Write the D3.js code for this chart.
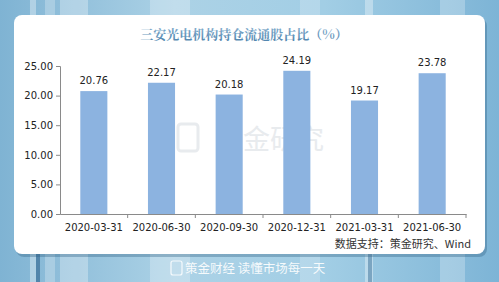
<!DOCTYPE html>
<html>
<head>
<meta charset="utf-8">
<script src="https://cdn.jsdelivr.net/npm/d3@7"></script>
<style>
  body { margin: 0; overflow: hidden; }
  svg { display: block; }
</style>
</head>
<body>
<svg id="chart"></svg>
<script>
const width = 499;
const height = 282;
const categories = ["2020-03-31", "2020-06-30", "2020-09-30", "2020-12-31", "2021-03-31", "2021-06-30"];
const values = [20.76, 22.17, 20.18, 24.19, 19.17, 23.78];
const yTicks = [0, 5, 10, 15, 20, 25];
const title = "三安光电机构持仓流通股占比（%）";
const source = "数据支持：策金研究、Wind";
const footer = "策金财经 读懂市场每一天";

const svg = d3.select("#chart").attr("width", width).attr("height", height);
const defs = svg.append("defs");

let bg = defs.append("linearGradient").attr("id", "bg").attr("x1", 0).attr("x2", 1).attr("y1", 0).attr("y2", 0);
bg.append("stop").attr("offset", "0%").attr("stop-color", "#7fb3d3");
bg.append("stop").attr("offset", "35%").attr("stop-color", "#acd2e6");
bg.append("stop").attr("offset", "65%").attr("stop-color", "#a2cee5");
bg.append("stop").attr("offset", "100%").attr("stop-color", "#7db4d6");

svg.append("rect").attr("width", width).attr("height", height).attr("fill", "url(#bg)");

// light vertical stripes in the background
const stripes = [[30, 6, 0.35], [45, 10, 0.25], [60, 28, 0.3], [150, 40, 0.25], [300, 20, 0.2], [365, 8, 0.35], [440, 25, 0.25]];
svg.selectAll(".stripe")
  .data(stripes)
  .join("rect")
  .attr("x", d => d[0]).attr("y", 0)
  .attr("width", d => d[1]).attr("height", height)
  .attr("fill", "#ffffff").attr("opacity", d => d[2]);
svg.append("rect").attr("x", 36).attr("y", 250).attr("width", 4).attr("height", 32).attr("fill", "#3a6f98").attr("opacity", 0.7);
svg.append("rect").attr("x", 368).attr("y", 250).attr("width", 4).attr("height", 32).attr("fill", "#3a6f98").attr("opacity", 0.5);

// card
svg.append("rect")
  .attr("x", 15).attr("y", 16).attr("width", 471).attr("height", 239)
  .attr("rx", 8).attr("fill", "#2f5f80").attr("opacity", 0.35)
  .attr("transform", "translate(1,2)");
svg.append("rect")
  .attr("x", 14).attr("y", 15).attr("width", 471).attr("height", 239)
  .attr("rx", 8).attr("fill", "#ffffff");

// title
let tg = defs.append("linearGradient").attr("id", "tg").attr("x1", 0).attr("x2", 0).attr("y1", 0).attr("y2", 1);
tg.append("stop").attr("offset", "0%").attr("stop-color", "#8fb6d4");
tg.append("stop").attr("offset", "100%").attr("stop-color", "#4a80ab");
svg.append("text")
  .attr("x", 244).attr("y", 39)
  .attr("text-anchor", "middle")
  .attr("font-family", "'Noto Serif CJK SC', 'Noto Sans CJK SC', serif")
  .attr("font-size", 13).attr("font-weight", "bold")
  .attr("fill", "url(#tg)")
  .text(title);

// watermark
svg.append("text")
  .attr("x", 270).attr("y", 149)
  .attr("text-anchor", "middle")
  .attr("font-family", "'Noto Sans CJK SC', sans-serif")
  .attr("font-size", 27)
  .attr("fill", "#e8ebee")
  .text("策金研究");
svg.append("rect")
  .attr("x", 178).attr("y", 124).attr("width", 20).attr("height", 27)
  .attr("rx", 3).attr("fill", "none").attr("stroke", "#e8ebee").attr("stroke-width", 3);

const x = d3.scaleBand().domain(categories).range([60, 466]).paddingInner(0.6).paddingOuter(0.3);
const xb = d3.scaleBand().domain(categories).range([60, 466]);
const y = d3.scaleLinear().domain([0, 25]).range([214, 66]);

svg.selectAll(".bar")
  .data(values)
  .join("rect")
  .attr("x", (d, i) => x(categories[i]))
  .attr("y", d => y(d))
  .attr("width", x.bandwidth())
  .attr("height", d => y(0) - y(d))
  .attr("fill", "#8cb3e0");

svg.selectAll(".val")
  .data(values)
  .join("text")
  .attr("x", (d, i) => x(categories[i]) + x.bandwidth() / 2)
  .attr("y", d => y(d) - 7)
  .attr("text-anchor", "middle")
  .attr("font-family", "'DejaVu Sans', sans-serif")
  .attr("font-size", 10)
  .attr("fill", "#222")
  .text(d => d.toFixed(2));

const yAxis = svg.append("g")
  .attr("transform", "translate(60,0)")
  .call(d3.axisLeft(y).tickValues(yTicks).tickFormat(d3.format(".2f")).tickSize(4).tickPadding(3));
yAxis.selectAll("text").attr("font-family", "'DejaVu Sans', sans-serif").attr("font-size", 10).attr("fill", "#222");
yAxis.selectAll("line, path").attr("stroke", "#8a8a8a");

const xAxis = svg.append("g")
  .attr("transform", "translate(0,214)")
  .call(d3.axisBottom(xb).tickSize(0).tickPadding(10));
xAxis.selectAll("text").attr("font-family", "'DejaVu Sans', sans-serif").attr("font-size", 10).attr("fill", "#222");
xAxis.selectAll("path").attr("stroke", "#8a8a8a");
xAxis.selectAll(".sep")
  .data(categories)
  .join("line")
  .attr("x1", d => xb(d) + xb.bandwidth()).attr("x2", d => xb(d) + xb.bandwidth())
  .attr("y1", 0).attr("y2", 4)
  .attr("stroke", "#8a8a8a");

svg.append("text")
  .attr("x", 471).attr("y", 248)
  .attr("text-anchor", "end")
  .attr("font-family", "'Noto Sans CJK SC', sans-serif")
  .attr("font-size", 11)
  .attr("fill", "#333")
  .text(source);

// footer
svg.append("rect")
  .attr("x", 171).attr("y", 261).attr("width", 11).attr("height", 14)
  .attr("rx", 2).attr("fill", "none").attr("stroke", "#ffffff").attr("stroke-width", 1.2).attr("opacity", 0.85);
svg.append("text")
  .attr("x", 185).attr("y", 273)
  .attr("font-family", "'Noto Sans CJK SC', sans-serif")
  .attr("font-size", 12.5)
  .attr("fill", "#ffffff").attr("opacity", 0.9)
  .text(footer);
</script>
</body>
</html>
